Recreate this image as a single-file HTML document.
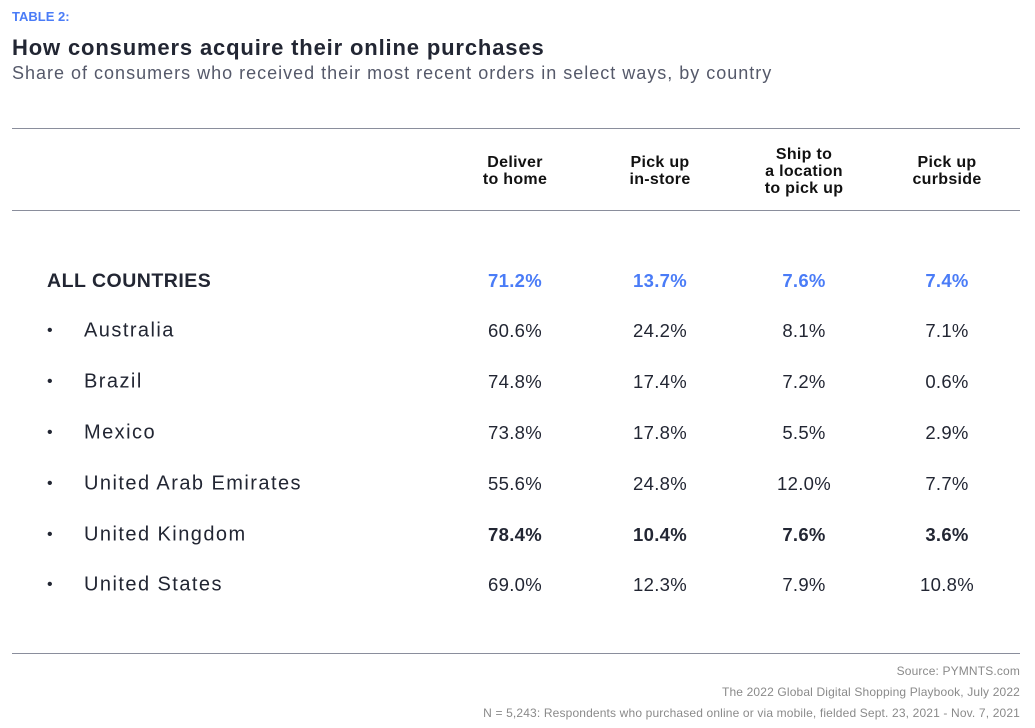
<!DOCTYPE html>
<html><head><meta charset="utf-8"><style>
body{margin:0;width:1035px;height:728px;background:#fff;font-family:"Liberation Sans",sans-serif;position:relative;overflow:hidden;color:#222633}
.a{position:absolute;white-space:nowrap}
.line{position:absolute;left:12px;width:1008px;height:1px;background:#8a8e9c}
.h{font-weight:bold;font-size:16px;line-height:17px;text-align:center;color:#111;letter-spacing:0.3px}
.c{position:absolute;width:120px;text-align:center;font-size:18.5px;letter-spacing:0.3px;transform:translateY(-50%)}
.n{position:absolute;left:84px;font-size:20px;letter-spacing:1.45px;transform:translateY(-50%)}
.d{position:absolute;left:47px;font-size:16px;transform:translateY(-50%)}
.f{position:absolute;right:15px;font-size:12px;letter-spacing:0.15px;color:#8a8a8a;text-align:right}
</style></head><body>
<div class="a" style="left:12px;top:9px;font-size:13px;font-weight:bold;color:#4a7cf7">TABLE 2:</div>
<div class="a" style="left:12px;top:35px;font-size:22px;font-weight:bold;letter-spacing:0.85px;color:#222633">How consumers acquire their online purchases</div>
<div class="a" style="left:12px;top:63px;font-size:18px;letter-spacing:1px;color:#55596a">Share of consumers who received their most recent orders in select ways, by country</div>
<div class="line" style="top:128px"></div>
<div class="line" style="top:210px"></div>
<div class="line" style="top:653px"></div>
<div class="a h" style="left:455px;top:154px;width:120px">Deliver<br>to home</div>
<div class="a h" style="left:600px;top:154px;width:120px">Pick up<br>in-store</div>
<div class="a h" style="left:744px;top:146px;width:120px">Ship to<br>a location<br>to pick up</div>
<div class="a h" style="left:887px;top:154px;width:120px">Pick up<br>curbside</div>

<div class="a" style="left:47px;top:270px;font-size:19.5px;font-weight:bold;letter-spacing:0.5px">ALL COUNTRIES</div>
<div class="c" style="left:455px;top:281px;color:#4a7cf7;font-weight:bold">71.2%</div>
<div class="c" style="left:600px;top:281px;color:#4a7cf7;font-weight:bold">13.7%</div>
<div class="c" style="left:744px;top:281px;color:#4a7cf7;font-weight:bold">7.6%</div>
<div class="c" style="left:887px;top:281px;color:#4a7cf7;font-weight:bold">7.4%</div>

<div class="d" style="top:331px">•</div><div class="n" style="top:331px">Australia</div>
<div class="c" style="left:455px;top:331px">60.6%</div><div class="c" style="left:600px;top:331px">24.2%</div><div class="c" style="left:744px;top:331px">8.1%</div><div class="c" style="left:887px;top:331px">7.1%</div>

<div class="d" style="top:382px">•</div><div class="n" style="top:382px">Brazil</div>
<div class="c" style="left:455px;top:382px">74.8%</div><div class="c" style="left:600px;top:382px">17.4%</div><div class="c" style="left:744px;top:382px">7.2%</div><div class="c" style="left:887px;top:382px">0.6%</div>

<div class="d" style="top:433px">•</div><div class="n" style="top:433px">Mexico</div>
<div class="c" style="left:455px;top:433px">73.8%</div><div class="c" style="left:600px;top:433px">17.8%</div><div class="c" style="left:744px;top:433px">5.5%</div><div class="c" style="left:887px;top:433px">2.9%</div>

<div class="d" style="top:484px">•</div><div class="n" style="top:484px">United Arab Emirates</div>
<div class="c" style="left:455px;top:484px">55.6%</div><div class="c" style="left:600px;top:484px">24.8%</div><div class="c" style="left:744px;top:484px">12.0%</div><div class="c" style="left:887px;top:484px">7.7%</div>

<div class="d" style="top:535px">•</div><div class="n" style="top:535px">United Kingdom</div>
<div class="c" style="left:455px;top:535px;font-weight:bold">78.4%</div><div class="c" style="left:600px;top:535px;font-weight:bold">10.4%</div><div class="c" style="left:744px;top:535px;font-weight:bold">7.6%</div><div class="c" style="left:887px;top:535px;font-weight:bold">3.6%</div>

<div class="d" style="top:585px">•</div><div class="n" style="top:585px">United States</div>
<div class="c" style="left:455px;top:585px">69.0%</div><div class="c" style="left:600px;top:585px">12.3%</div><div class="c" style="left:744px;top:585px">7.9%</div><div class="c" style="left:887px;top:585px">10.8%</div>

<div class="f" style="top:664px">Source: PYMNTS.com</div>
<div class="f" style="top:685px">The 2022 Global Digital Shopping Playbook, July 2022</div>
<div class="f" style="top:706px">N = 5,243: Respondents who purchased online or via mobile, fielded Sept. 23, 2021 - Nov. 7, 2021</div>
</body></html>
